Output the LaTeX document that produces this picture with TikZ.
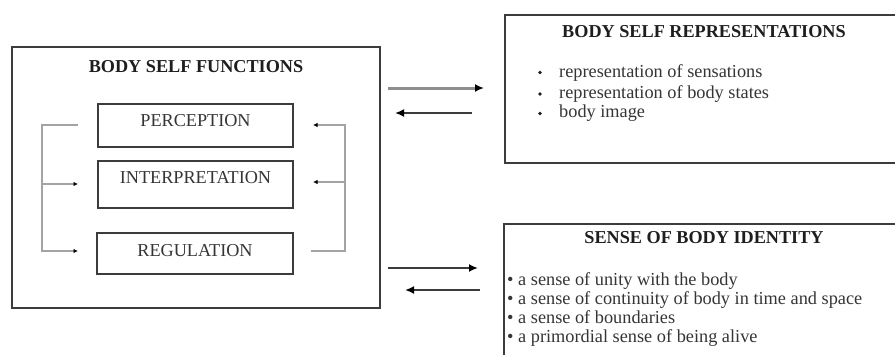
\documentclass[tikz,border=0pt]{standalone}
\usepackage{fontspec}
\setmainfont{Liberation Serif}
\usetikzlibrary{arrows.meta}
\definecolor{boxline}{HTML}{3C3C3C}
\definecolor{txt}{HTML}{1E1E1E}
\definecolor{brk}{HTML}{A3A3A3}
\definecolor{arrgray}{HTML}{8E8E8E}
\tikzset{
  bigbox/.style={draw=boxline, line width=2.2pt, inner sep=0pt},
  fbox/.style={draw=boxline, line width=1.8pt, inner sep=0pt},
  ttl/.style={font=\fontsize{18.2}{20}\selectfont\bfseries, text=txt, inner sep=0pt},
  lbl/.style={font=\fontsize{18.2}{20}\selectfont, text=txt!90, inner sep=0pt},
  item/.style={font=\fontsize{18.3}{20}\selectfont, text=txt!90, inner sep=0pt, anchor=base west},
  brack/.style={draw=brk, line width=1.4pt},
  smalltip/.style={-{Latex[length=4.5pt,width=4.5pt,color=black]}},
  bigarrow/.style={draw=boxline, line width=2pt, -{Latex[length=9pt,width=8pt,color=black]}},
}
\begin{document}
\begin{tikzpicture}[x=1pt,y=-1pt]
\useasboundingbox (0,0) rectangle (895,354);
\clip (0,0) rectangle (895,354);
\fill[white] (0,0) rectangle (895,354);
% left big box
\node[bigbox, minimum width=368pt, minimum height=261pt] (bsf) at (196,177.5) {};
\node[ttl] (bsfT) at (196,67) {BODY SELF FUNCTIONS};
% inner boxes
\node[fbox, minimum width=195pt, minimum height=43pt] (perc) at (195.5,125.5) {};
\node[lbl] (percT) at (195.5,121) {PERCEPTION};
\node[fbox, minimum width=195pt, minimum height=47pt] (interp) at (195.5,184.5) {};
\node[lbl] (interpT) at (195.5,178) {INTERPRETATION};
\node[fbox, minimum width=196pt, minimum height=41pt] (reg) at (195,253.5) {};
\node[lbl] (regT) at (195,251) {REGULATION};
% bracket coordinates
\coordinate (lt) at (78,125);
\coordinate (lm) at (78,184);
\coordinate (lb) at (78,251);
\coordinate (lx) at (42,184);
\coordinate (rt) at (313,125);
\coordinate (rm) at (313,182);
\coordinate (rb) at (311,251);
\coordinate (rx) at (345,182);
\draw[brack, smalltip] (lt) -- (lt -| lx) -- (lb -| lx) -- (lb);
\draw[brack, smalltip] (lx) -- (lm);
\draw[brack, smalltip] (rb) -- (rb -| rx) -- (rt -| rx) -- (rt);
\draw[brack, smalltip] (rx) -- (rm);
% top right box
\node[bigbox, minimum width=410pt, minimum height=148pt, anchor=north west] (bsr) at (504,14) {};
\node[ttl] (bsrT) at (704,32) {BODY SELF REPRESENTATIONS};
\fill[txt] (540,72.5) circle (1.8pt);
\fill[txt] (540,94) circle (1.8pt);
\fill[txt] (540,113.5) circle (1.8pt);
\node[item] (r1) at (559,77.5) {representation of sensations};
\node[item] (r2) at (559,98) {representation of body states};
\node[item] (r3) at (559,117.5) {body image};
% bottom right box
\node[bigbox, minimum width=410pt, minimum height=160pt, anchor=north west] (sbi) at (503,223) {};
\node[ttl] (sbiT) at (704,237.5) {SENSE OF BODY IDENTITY};
\node[item] (s1) at (507,285) {• a sense of unity with the body};
\node[item] (s2) at (507,304.5) {• a sense of continuity of body in time and space};
\node[item] (s3) at (507,323.5) {• a sense of boundaries};
\node[item] (s4) at (507,342.5) {• a primordial sense of being alive};
% arrows between boxes
\coordinate (a1s) at (388,88);
\coordinate (a1e) at (484,88);
\coordinate (a2s) at (472,113);
\coordinate (a2e) at (395,113);
\coordinate (a3s) at (388,268);
\coordinate (a3e) at (478,268);
\coordinate (a4s) at (480,290);
\coordinate (a4e) at (405,290);
\draw[bigarrow, draw=arrgray, line width=3pt] (a1s) -- (a1e);
\draw[bigarrow] (a2s) -- (a2e);
\draw[bigarrow] (a3s) -- (a3e);
\draw[bigarrow] (a4s) -- (a4e);
\end{tikzpicture}
\end{document}
